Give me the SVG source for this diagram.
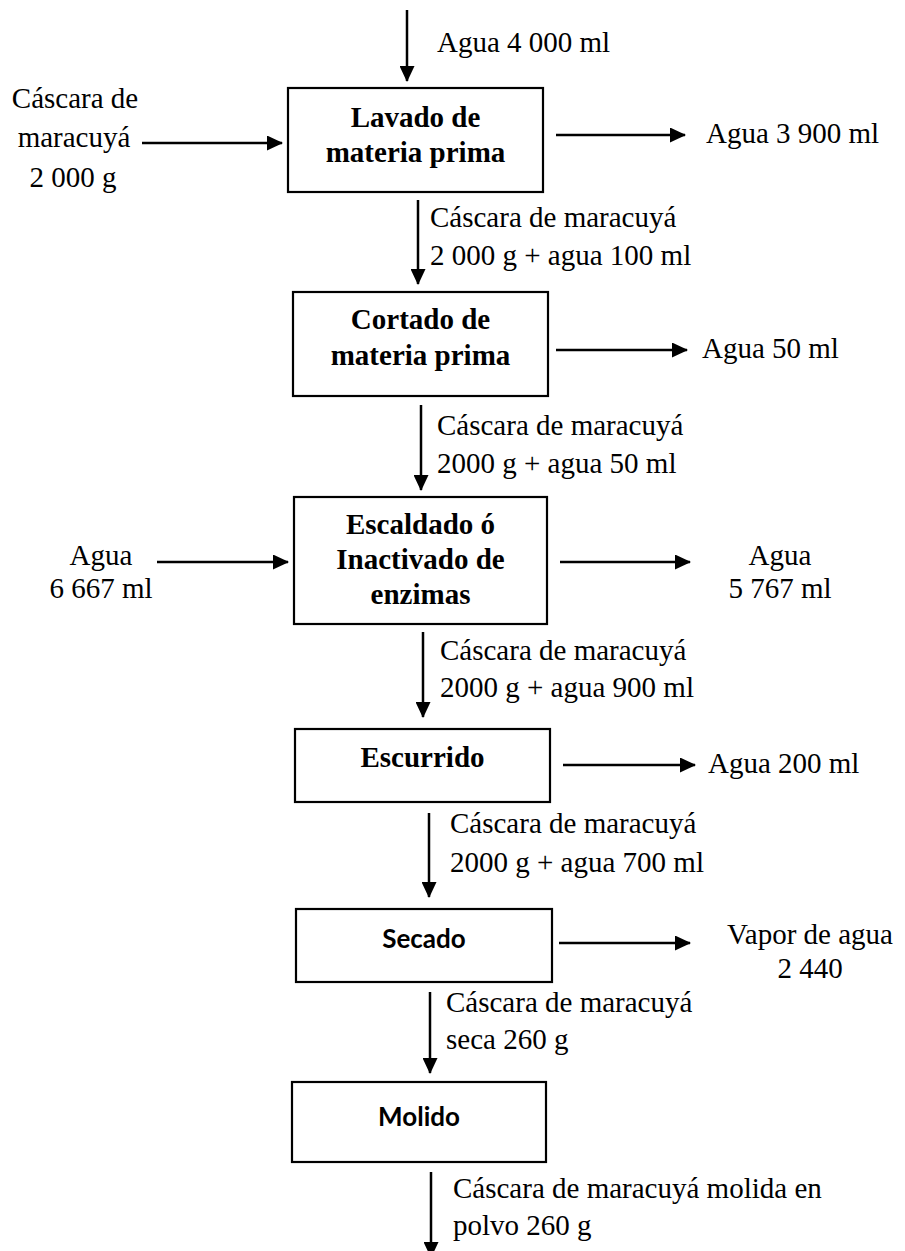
<svg xmlns="http://www.w3.org/2000/svg" width="905" height="1251" viewBox="0 0 905 1251">
<style>
.box{fill:#fff;stroke:#000;stroke-width:2.2}
.t{font-family:"Liberation Serif","Times New Roman",serif;font-size:29px;fill:#000}
.b{font-family:"Liberation Serif","Times New Roman",serif;font-size:29px;font-weight:bold;fill:#000}
.s{font-family:Lato,"Open Sans",sans-serif;font-size:26px;font-weight:bold;fill:#000}
.c{text-anchor:middle}
.ar{stroke:#000;stroke-width:2.5;fill:none;marker-end:url(#ah)}
</style>
<defs>
<marker id="ah" markerUnits="userSpaceOnUse" markerWidth="16" markerHeight="15" refX="15" refY="7.5" orient="auto" viewBox="0 0 16 15">
<path d="M0,0 L16,7.5 L0,15 Z" fill="#000"/>
</marker>
</defs>
<rect width="905" height="1251" fill="#fff"/>
<g id="connectors">
<line class="ar" x1="407" y1="10" x2="407" y2="81"/>
<line class="ar" x1="142" y1="143" x2="282" y2="143"/>
<line class="ar" x1="556" y1="135" x2="685" y2="135"/>
<line class="ar" x1="418" y1="200" x2="418" y2="284"/>
<line class="ar" x1="556" y1="350" x2="687" y2="350"/>
<line class="ar" x1="421" y1="405" x2="421" y2="490"/>
<line class="ar" x1="157" y1="562" x2="288" y2="562"/>
<line class="ar" x1="560" y1="562" x2="690" y2="562"/>
<line class="ar" x1="423" y1="632" x2="423" y2="717"/>
<line class="ar" x1="563" y1="765" x2="695" y2="765"/>
<line class="ar" x1="429" y1="813" x2="429" y2="897"/>
<line class="ar" x1="559" y1="943" x2="690" y2="943"/>
<line class="ar" x1="430" y1="992" x2="430" y2="1073"/>
<line class="ar" x1="431" y1="1172" x2="431" y2="1257"/>
</g>
<g id="labels">
<text class="t" x="437" y="52">Agua 4 000 ml</text>
<text class="t c" x="75" y="108">Cáscara de</text>
<text class="t c" x="74" y="147">maracuyá</text>
<text class="t c" x="73" y="187">2 000 g</text>
<text class="t" x="706" y="143">Agua 3 900 ml</text>
<text class="t" x="430" y="227">Cáscara de maracuyá</text>
<text class="t" x="430" y="265">2 000 g + agua 100 ml</text>
<text class="t" x="702" y="358">Agua 50 ml</text>
<text class="t" x="437" y="435">Cáscara de maracuyá</text>
<text class="t" x="437" y="473">2000 g + agua 50 ml</text>
<text class="t c" x="101" y="565">Agua</text>
<text class="t c" x="101" y="598">6 667 ml</text>
<text class="t c" x="780" y="565">Agua</text>
<text class="t c" x="780" y="598">5 767 ml</text>
<text class="t" x="440" y="660">Cáscara de maracuyá</text>
<text class="t" x="440" y="697">2000 g + agua 900 ml</text>
<text class="t" x="708" y="773">Agua 200 ml</text>
<text class="t" x="450" y="833">Cáscara de maracuyá</text>
<text class="t" x="450" y="872">2000 g + agua 700 ml</text>
<text class="t c" x="810" y="944">Vapor de agua</text>
<text class="t c" x="810" y="978">2 440</text>
<text class="t" x="446" y="1012">Cáscara de maracuyá</text>
<text class="t" x="446" y="1049">seca 260 g</text>
<text class="t" x="453" y="1198">Cáscara de maracuyá molida en</text>
<text class="t" x="453" y="1235">polvo 260 g</text>
</g>
<g id="lavado">
<rect class="box" x="288" y="88" width="255" height="104"/>
<text class="b c" x="415.5" y="127">Lavado de</text>
<text class="b c" x="415.5" y="162">materia prima</text>
</g>
<g id="cortado">
<rect class="box" x="293" y="292" width="255" height="104"/>
<text class="b c" x="420.5" y="329">Cortado de</text>
<text class="b c" x="420.5" y="365">materia prima</text>
</g>
<g id="escaldado">
<rect class="box" x="294" y="497" width="253" height="127"/>
<text class="b c" x="420.5" y="534">Escaldado ó</text>
<text class="b c" x="420.5" y="569">Inactivado de</text>
<text class="b c" x="420.5" y="604">enzimas</text>
</g>
<g id="escurrido">
<rect class="box" x="295" y="729" width="255" height="73"/>
<text class="b c" x="422.5" y="767">Escurrido</text>
</g>
<g id="secado">
<rect class="box" x="296" y="909" width="256" height="73"/>
<text class="s c" x="424" y="948">Secado</text>
</g>
<g id="molido">
<rect class="box" x="292" y="1082" width="254" height="80"/>
<text class="s c" x="419" y="1126">Molido</text>
</g>
</svg>
